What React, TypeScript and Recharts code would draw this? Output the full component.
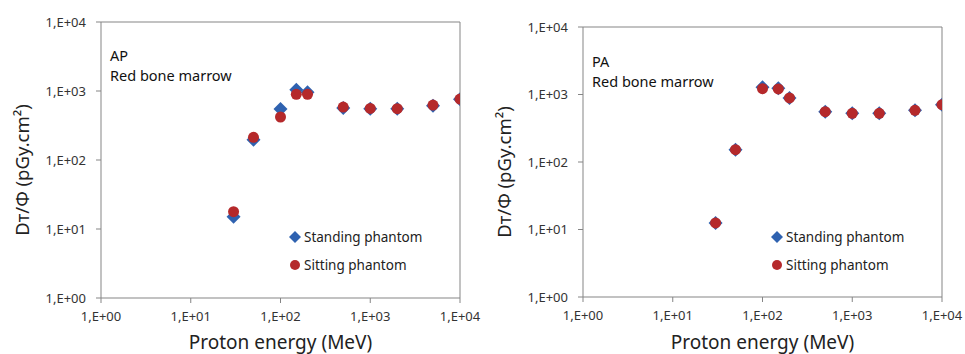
import { ScatterChart, Scatter, XAxis, YAxis, ReferenceLine, Legend } from 'recharts';

const energies = [30, 50, 100, 150, 200, 500, 1000, 2000, 5000, 10000];
const apStanding = [15, 197, 548, 1045, 957, 567, 555, 555, 613, 757];
const apSitting = [17.8, 213, 420, 895, 895, 586, 560, 555, 626, 765];
const paStanding = [12.5, 152, 1277, 1234, 888, 557, 526, 526, 583, 707];
const paSitting = [12.5, 152, 1220, 1210, 888, 557, 526, 526, 583, 707];
const decadeTicks = [1, 10, 100, 1000, 10000];

const BLUE = '#2f62b0';
const RED = '#b5292b';
const AXIS = '#858585';
const FONT = '"Noto Sans", "Open Sans", sans-serif';

const toPoints = (ys: number[]) => energies.map((x, i) => ({ x, y: ys[i] }));
const fmt = (v: number) => `1,E+0${Math.round(Math.log10(v))}`;

const Diamond = ({ cx, cy }: any) => (
  <polygon points={`${cx},${cy - 7} ${cx + 7},${cy} ${cx},${cy + 7} ${cx - 7},${cy}`} fill={BLUE} />
);
const Dot = ({ cx, cy }: any) => <circle cx={cx} cy={cy} r={5.5} fill={RED} />;

const renderLegend = () => (
  <div style={{ fontFamily: FONT, fontSize: 13.5, color: '#222' }}>
    <div style={{ display: 'flex', alignItems: 'center', height: 28 }}>
      <svg width={12} height={12} style={{ marginRight: 3 }}>
        <polygon points="6,0 12,6 6,12 0,6" fill={BLUE} />
      </svg>
      Standing phantom
    </div>
    <div style={{ display: 'flex', alignItems: 'center', height: 28 }}>
      <svg width={12} height={12} style={{ marginRight: 3 }}>
        <circle cx={6} cy={6} r={5} fill={RED} />
      </svg>
      Sitting phantom
    </div>
  </div>
);

interface PanelProps {
  standing: number[];
  sitting: number[];
  title: string;
  top: number;
  xAxisHeight: number;
  titleY: number;
}

function Panel({ standing, sitting, title, top, xAxisHeight, titleY }: PanelProps) {
  return (
    <div style={{ position: 'relative', width: 482, height: 354 }}>
      <ScatterChart width={482} height={354} margin={{ top, right: 22, bottom: 0, left: 0 }}>
        <XAxis
          type="number"
          dataKey="x"
          scale="log"
          domain={[1, 10000]}
          ticks={decadeTicks}
          tickFormatter={fmt}
          allowDataOverflow
          height={xAxisHeight}
          stroke={AXIS}
          tickSize={5}
          tick={{ fill: '#333', fontSize: 13, fontFamily: FONT }}
          tickMargin={9}
          label={({ viewBox }: any) => (
            <text
              x={viewBox.x + viewBox.width / 2}
              y={349}
              textAnchor="middle"
              fontFamily={FONT}
              fontSize={19}
              fill="#222"
            >
              Proton energy (MeV)
            </text>
          )}
        />
        <YAxis
          type="number"
          dataKey="y"
          scale="log"
          domain={[1, 10000]}
          ticks={decadeTicks}
          tickFormatter={fmt}
          allowDataOverflow
          width={101}
          stroke={AXIS}
          tickSize={5}
          tick={{ fill: '#333', fontSize: 13, fontFamily: FONT }}
          tickMargin={10}
          label={({ viewBox }: any) => {
            const cy = viewBox.y + viewBox.height / 2 + 10;
            return (
              <text
                x={29}
                y={cy}
                transform={`rotate(-90 29 ${cy})`}
                textAnchor="middle"
                fontFamily={FONT}
                fontSize={18.5}
                fill="#222"
              >
                Dт/Φ (pGy.cm²)
              </text>
            );
          }}
        />
        <ReferenceLine y={10000} stroke={AXIS} strokeWidth={1} />
        <ReferenceLine x={10000} stroke={AXIS} strokeWidth={1} />
        <Legend
          layout="horizontal"
          align="center"
          verticalAlign="middle"
          content={renderLegend}
          wrapperStyle={{ left: 289, top: 223, width: 170 }}
        />
        <Scatter name="Standing phantom" data={toPoints(standing)} shape={<Diamond />} isAnimationActive={false} />
        <Scatter name="Sitting phantom" data={toPoints(sitting)} shape={<Dot />} isAnimationActive={false} />
      </ScatterChart>
      <div
        style={{
          position: 'absolute',
          left: 110,
          top: titleY,
          fontFamily: FONT,
          fontSize: 14.5,
          lineHeight: '20px',
          color: '#111',
        }}
      >
        <div>{title}</div>
        <div>Red bone marrow</div>
      </div>
    </div>
  );
}

export default function App() {
  return (
    <div style={{ position: 'fixed', left: 0, top: 0, width: 965, height: 354, background: '#fff', display: 'flex' }}>
      <Panel standing={apStanding} sitting={apSitting} title="AP" top={22} xAxisHeight={56} titleY={45} />
      <Panel standing={paStanding} sitting={paSitting} title="PA" top={27} xAxisHeight={57} titleY={51} />
    </div>
  );
}
